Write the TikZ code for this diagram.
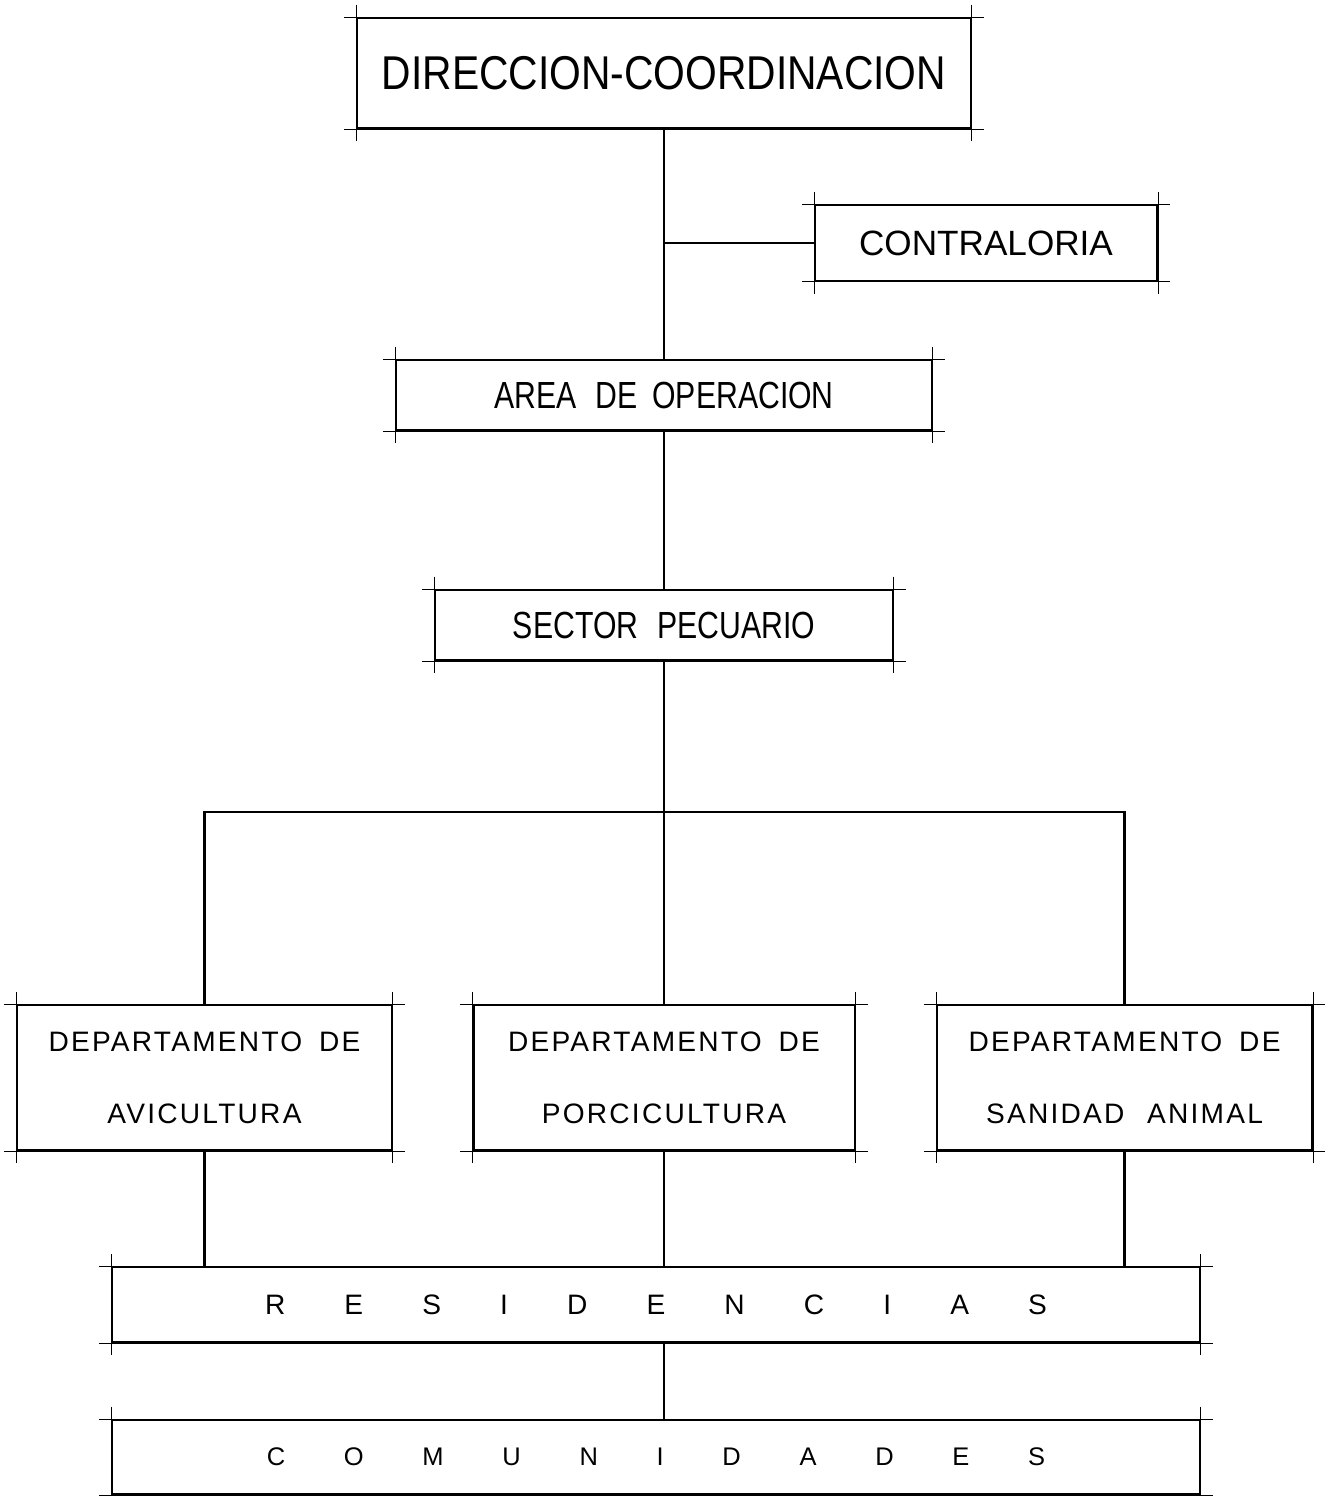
\documentclass[tikz,border=0pt]{standalone}
\usepackage{fontspec}
\setmainfont{Liberation Sans}
\newfontfamily\titlefont{Liberation Sans}[FakeStretch=0.86]
\newfontfamily\narrowfont{Liberation Sans}[FakeStretch=0.8]
\newfontfamily\spacedfont{Liberation Sans}[LetterSpace=8]
\usetikzlibrary{calc}

\tikzset{
  unitbox/.style={draw, line width=1.1pt, inner sep=0pt, align=center},
  deptbox/.style={unitbox, minimum height=2.9cm, font=\spacedfont\fontsize{16}{41}\selectfont},
  link/.style={line width=1.5pt},
  tick/.style={line width=0.5pt}
}

\begin{document}
\begin{tikzpicture}[x=0.02cm, y=-0.02cm]
        \useasboundingbox (0,0) rectangle (1332,1496);

        % boxes
        \node[unitbox, minimum width=12.28cm, minimum height=2.2cm] (dir) at (664,73)
          {\titlefont\fontsize{27}{30}\selectfont DIRECCION-COORDINACION};
        \node[unitbox, minimum width=6.84cm, minimum height=1.5cm] (contra) at (986,243)
          {\fontsize{20}{24}\selectfont CONTRALORIA};
        \node[unitbox, minimum width=10.72cm, minimum height=1.4cm] (area) at (664,395)
          {\narrowfont\fontsize{21.5}{24}\selectfont AREA\hspace{0.5em}DE\hspace{0.4em}OPERACION};
        \node[unitbox, minimum width=9.16cm, minimum height=1.4cm] (sector) at (664,625)
          {\narrowfont\fontsize{21.5}{24}\selectfont SECTOR\hspace{0.5em}PECUARIO};

        \node[deptbox, minimum width=7.5cm] (avic) at (204.5,1077.5)
          {DEPARTAMENTO\hspace{0.6em}DE\\AVICULTURA};
        \node[deptbox, minimum width=7.62cm] (porc) at (664,1077.5)
          {DEPARTAMENTO\hspace{0.6em}DE\\PORCICULTURA};
        \node[deptbox, minimum width=7.5cm] (sanid) at (1124.5,1077.5)
          {DEPARTAMENTO\hspace{0.6em}DE\\SANIDAD\hspace{0.8em}ANIMAL};

        \node[unitbox, minimum width=21.76cm, minimum height=1.5cm] (resid) at (656,1304.5)
          {\fontsize{16}{20}\selectfont\makebox[445pt][s]{R\hfill E\hfill S\hfill I\hfill D\hfill E\hfill N\hfill C\hfill I\hfill A\hfill S}};
        \node[unitbox, minimum width=21.76cm, minimum height=1.48cm] (comun) at (656,1457)
          {\fontsize{14.5}{18}\selectfont\makebox[443pt][s]{C\hfill O\hfill M\hfill U\hfill N\hfill I\hfill D\hfill A\hfill D\hfill E\hfill S}};

        % drafting ticks at the corners
        \foreach \n in {dir,contra,area,sector,avic,porc,sanid,resid,comun} {
          \draw[tick] ([xshift=-7pt]\n.north west) -- ([xshift=7pt]\n.north east);
          \draw[tick] ([xshift=-7pt]\n.south west) -- ([xshift=7pt]\n.south east);
          \draw[tick] ([yshift=7pt]\n.north west) -- ([yshift=-7pt]\n.south west);
          \draw[tick] ([yshift=7pt]\n.north east) -- ([yshift=-7pt]\n.south east);
        }

        % connectors
        \coordinate (bus) at (664,812);
        \draw[link] (dir) -- (area);
        \draw[link] (contra.west) -- (contra.west -| dir.south);
        \draw[link] (area) -- (sector);
        \draw[link] (sector.south) -- (porc.north);
        \draw[link] (avic.north) |- (bus) -| (sanid.north);
        \draw[link] (avic.south) -- (avic.south |- resid.north);
        \draw[link] (porc.south) -- (porc.south |- resid.north);
        \draw[link] (sanid.south) -- (sanid.south |- resid.north);
        \draw[link] (resid.south -| porc.south) -- (comun.north -| porc.south);

\end{tikzpicture}
\end{document}
